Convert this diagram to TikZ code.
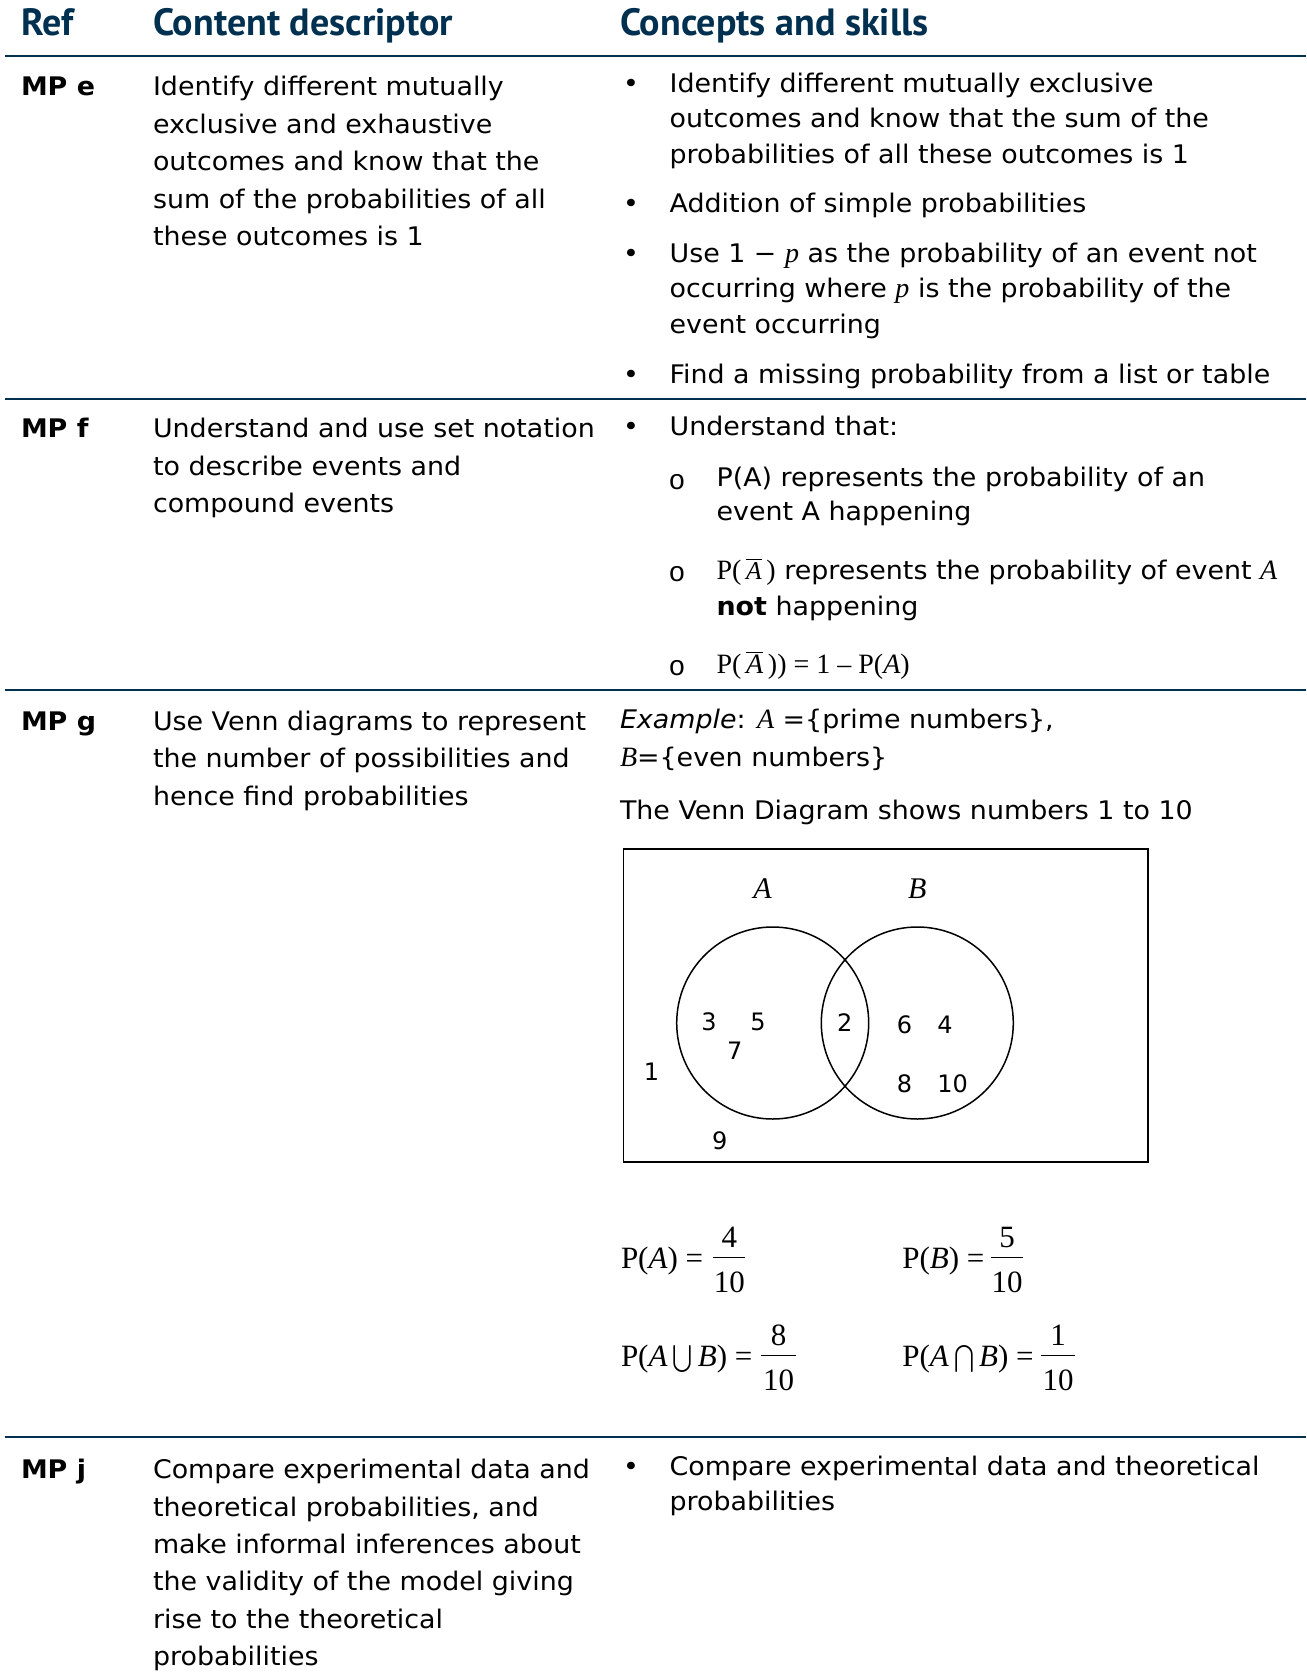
\documentclass[tikz,border=0pt]{standalone}
\usepackage{fontspec}
\setmainfont{DejaVu Sans}[FakeStretch=1.05]
\newfontfamily\numfont{DejaVu Sans}
\newfontfamily\hdrfont{PT Sans}
\newfontfamily\tms{Liberation Serif}
\newfontfamily\monofnt{Liberation Mono}
\definecolor{navy}{RGB}{0,48,80}
\newcommand{\barA}{$\overline{\hbox{\tms\itshape A}}$}
\newcommand{\bigU}{\,\raisebox{-0.1em}{\scalebox{1.2}[1.35]{$\bigcup$}}\,}
\newcommand{\bigN}{\,\raisebox{-0.1em}{\scalebox{1.2}[1.35]{$\bigcap$}}\,}
\begin{document}
\begin{tikzpicture}[x=0.5pt,y=-0.5pt,
  every node/.style={inner sep=0pt, outer sep=0pt},
  hdr/.style={anchor=base west, font=\hdrfont\bfseries\fontsize{19}{22}\selectfont, text=navy},
  txt/.style={anchor=mid west, yshift=-2pt, font=\fontsize{12.8}{15}\selectfont},
  reflab/.style={anchor=mid west, yshift=-2pt, font=\fontsize{12.8}{15}\selectfont\bfseries},
  bul/.style={anchor=mid west, yshift=-2pt, font=\fontsize{12.8}{15}\selectfont},
  subbul/.style={anchor=center, font=\monofnt\fontsize{14}{16}\selectfont},
  rowrule/.style={draw=navy, line width=1pt},
  num/.style={anchor=center, font=\numfont\fontsize{12}{14}\selectfont},
  venn/.style={circle, draw, line width=0.75pt, minimum size=96pt},
  frm/.style={anchor=base west, font=\tms\fontsize{15.5}{19}\selectfont},
  frd/.style={anchor=base, font=\tms\fontsize{15.5}{19}\selectfont},
  fbar/.style={line width=0.6pt}
]
\useasboundingbox (0,0) rectangle (1306,1675);
% header
\node[hdr] (h1) at (21,36) {Ref};
\node[hdr] (h2) at (153,36) {Content descriptor};
\node[hdr] (h3) at (620,36) {Concepts and skills};
\coordinate (r0a) at (5,55.7); \coordinate (r0b) at (1306,55.7);
\draw[rowrule] (r0a) -- (r0b);
% row MP e
\node[reflab] (re) at (21,86.5) {MP e};
\node[txt] (e1) at (153,86.5) {Identify different mutually};
\node[txt] (e2) at (153,124) {exclusive and exhaustive};
\node[txt] (e3) at (153,161) {outcomes and know that the};
\node[txt] (e4) at (153,199) {sum of the probabilities of all};
\node[txt] (e5) at (153,236) {these outcomes is 1};
\node[bul] (eb1) at (623,83.3) {•};
\node[txt] (ec1) at (669.6,83.3) {Identify different mutually exclusive};
\node[txt] (ec2) at (669.6,118.5) {outcomes and know that the sum of the};
\node[txt] (ec3) at (669.6,153.8) {probabilities of all these outcomes is 1};
\node[bul] (eb2) at (623,203) {•};
\node[txt] (ec4) at (669.6,203) {Addition of simple probabilities};
\node[bul] (eb3) at (623,253) {•};
\node[txt] (ec5) at (669.6,253) {Use 1 − {\tms\itshape\fontsize{14}{16}\selectfont p} as the probability of an event not};
\node[txt] (ec6) at (669.6,288) {occurring where {\tms\itshape\fontsize{14}{16}\selectfont p} is the probability of the};
\node[txt] (ec7) at (669.6,323.6) {event occurring};
\node[bul] (eb4) at (623,373.8) {•};
\node[txt] (ec8) at (669.6,373.8) {Find a missing probability from a list or table};
\coordinate (r1a) at (5,398.5); \coordinate (r1b) at (1306,398.5);
\draw[rowrule] (r1a) -- (r1b);
% row MP f
\node[reflab] (rf) at (21,428) {MP f};
\node[txt] (f1) at (153,428) {Understand and use set notation};
\node[txt] (f2) at (153,465.6) {to describe events and};
\node[txt] (f3) at (153,503) {compound events};
\node[bul] (fb1) at (623,426) {•};
\node[txt] (fc1) at (669.6,426) {Understand that:};
\node[subbul] (fs1) at (677,482) {o};
\node[txt] (fc2) at (716.6,477) {P(A) represents the probability of an};
\node[txt] (fc3) at (716.6,511.5) {event A happening};
\node[subbul] (fs2) at (677,574) {o};
\node[txt] (fc4) at (716.6,570) {{\tms\fontsize{14}{16}\selectfont P(\,}\barA{\tms\fontsize{14}{16}\selectfont\,)} represents the probability of event {\tms\itshape\fontsize{14}{16}\selectfont A}};
\node[txt] (fc5) at (716.6,606.5) {\textbf{not} happening};
\node[subbul] (fs3) at (677,668.5) {o};
\node[txt] (fc6) at (716.6,664) {\tms\fontsize{14}{16}\selectfont P(\,\barA\,)) = 1 – P({\itshape A})};
\coordinate (r2a) at (5,690); \coordinate (r2b) at (1306,690);
\draw[rowrule] (r2a) -- (r2b);
% row MP g
\node[reflab] (rg) at (21,721) {MP g};
\node[txt] (g1) at (153,721) {Use Venn diagrams to represent};
\node[txt] (g2) at (153,758) {the number of possibilities and};
\node[txt] (g3) at (153,795.6) {hence find probabilities};
\node[txt] (gc1) at (620,718.7) {{\itshape Example}: {\tms\itshape\fontsize{14}{16}\selectfont A} =\{prime numbers\},};
\node[txt] (gc2) at (620,757) {{\tms\itshape\fontsize{14}{16}\selectfont B}=\{even numbers\}};
\node[txt] (gc3) at (620,810.5) {The Venn Diagram shows numbers 1 to 10};
% Venn diagram
\draw[line width=0.8pt] (623.6,849) rectangle (1148,1162);
\node[venn] (ca) at (772.7,1023) {};
\node[venn] (cb) at (917.3,1023) {};
\node[anchor=center, font=\tms\itshape\fontsize{15}{18}\selectfont] (la) at (762.5,888.5) {A};
\node[anchor=center, font=\tms\itshape\fontsize{15}{18}\selectfont] (lb) at (917.3,888.5) {B};
\node[num] (n3) at (709,1022) {3};
\node[num] (n5) at (758,1022) {5};
\node[num] (n7) at (734.7,1050.8) {7};
\node[num] (n2) at (844.7,1023) {2};
\node[num] (n6) at (904.5,1025) {6};
\node[num] (n4) at (945,1025) {4};
\node[num] (n8) at (904.5,1084) {8};
\node[num] (n10) at (952.6,1084) {10};
\node[num] (n1) at (651.4,1072) {1};
\node[num] (n9) at (719.8,1140.5) {9};
% formulas
\node[frm] (pa) at (621,1268) {P({\itshape A}) =};
\node[frd] (pan) at (729.4,1247) {4};
\node[frd] (pad) at (729.4,1292) {10};
\draw[fbar] (713.4,1257.7) -- (745.4,1257.7);
\node[frm] (pb) at (902.4,1268) {P({\itshape B}) =};
\node[frd] (pbn) at (1007,1247) {5};
\node[frd] (pbd) at (1007,1292) {10};
\draw[fbar] (991,1257.7) -- (1023,1257.7);
\node[frm] (pu) at (621,1366) {P({\itshape A}\bigU{\itshape B}) =};
\node[frd] (pun) at (778.5,1345) {8};
\node[frd] (pud) at (778.5,1390) {10};
\draw[fbar] (761.4,1355.7) -- (795.6,1355.7);
\node[frm] (pi) at (902.4,1366) {P({\itshape A}\bigN{\itshape B}) =};
\node[frd] (pin) at (1058,1345) {1};
\node[frd] (pid) at (1058,1390) {10};
\draw[fbar] (1041,1355.7) -- (1075.4,1355.7);
\coordinate (r3a) at (5,1437.4); \coordinate (r3b) at (1306,1437.4);
\draw[rowrule] (r3a) -- (r3b);
% row MP j
\node[reflab] (rj) at (21,1469.5) {MP j};
\node[txt] (j1) at (153,1469.5) {Compare experimental data and};
\node[txt] (j2) at (153,1506.8) {theoretical probabilities, and};
\node[txt] (j3) at (153,1544.2) {make informal inferences about};
\node[txt] (j4) at (153,1581.5) {the validity of the model giving};
\node[txt] (j5) at (153,1619) {rise to the theoretical};
\node[txt] (j6) at (153,1656.3) {probabilities};
\node[bul] (jb1) at (623,1466) {•};
\node[txt] (jc1) at (669.6,1466) {Compare experimental data and theoretical};
\node[txt] (jc2) at (669.6,1501.5) {probabilities};
\end{tikzpicture}
\end{document}
